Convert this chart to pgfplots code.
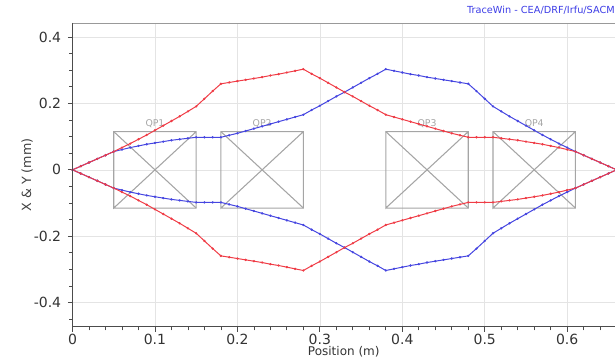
\documentclass[border=0pt]{standalone}
\usepackage{pgfplots}
\pgfplotsset{compat=1.18}
\usepackage{pgfplotstable}
\usepackage{fontspec}
\setmainfont{DejaVu Sans}
\definecolor{redl}{RGB}{240,60,70}
\definecolor{redm}{RGB}{120,20,20}
\definecolor{bluel}{RGB}{70,70,225}
\definecolor{bluem}{RGB}{20,20,100}
\definecolor{gridc}{RGB}{228,228,228}
\definecolor{boxc}{RGB}{165,165,165}
\definecolor{titc}{RGB}{60,60,230}

\pgfplotstableread{
x ru rl bu bl
0.00 0 0 0 0
0.01 0.011 -0.011 0.011 -0.011
0.02 0.022 -0.022 0.022 -0.022
0.03 0.033 -0.033 0.033 -0.033
0.04 0.044 -0.044 0.044 -0.044
0.05 0.055 -0.055 0.055 -0.055
0.06 0.067 -0.067 0.061 -0.061
0.07 0.079 -0.079 0.067 -0.067
0.08 0.092 -0.092 0.072 -0.072
0.09 0.105 -0.105 0.077 -0.077
0.10 0.119 -0.119 0.081 -0.081
0.11 0.133 -0.133 0.085 -0.085
0.12 0.147 -0.147 0.089 -0.089
0.13 0.161 -0.161 0.092 -0.092
0.14 0.176 -0.176 0.095 -0.095
0.15 0.191 -0.191 0.098 -0.098
0.16 0.214 -0.214 0.098 -0.098
0.17 0.237 -0.237 0.098 -0.098
0.18 0.259 -0.259 0.098 -0.098
0.19 0.263 -0.263 0.104 -0.104
0.20 0.267 -0.267 0.110 -0.110
0.21 0.271 -0.271 0.117 -0.117
0.22 0.275 -0.275 0.124 -0.124
0.23 0.279 -0.279 0.131 -0.131
0.24 0.284 -0.284 0.138 -0.138
0.25 0.288 -0.288 0.145 -0.145
0.26 0.293 -0.293 0.152 -0.152
0.27 0.298 -0.298 0.159 -0.159
0.28 0.303 -0.303 0.166 -0.166
0.29 0.289 -0.289 0.180 -0.180
0.30 0.276 -0.276 0.193 -0.193
0.31 0.262 -0.262 0.207 -0.207
0.32 0.248 -0.248 0.221 -0.221
0.33 0.234 -0.234 0.234 -0.234
0.34 0.221 -0.221 0.248 -0.248
0.35 0.207 -0.207 0.262 -0.262
0.36 0.193 -0.193 0.276 -0.276
0.37 0.180 -0.180 0.289 -0.289
0.38 0.166 -0.166 0.303 -0.303
0.39 0.159 -0.159 0.298 -0.298
0.40 0.152 -0.152 0.293 -0.293
0.41 0.145 -0.145 0.288 -0.288
0.42 0.138 -0.138 0.284 -0.284
0.43 0.131 -0.131 0.279 -0.279
0.44 0.124 -0.124 0.275 -0.275
0.45 0.117 -0.117 0.271 -0.271
0.46 0.110 -0.110 0.267 -0.267
0.47 0.104 -0.104 0.263 -0.263
0.48 0.098 -0.098 0.259 -0.259
0.49 0.098 -0.098 0.237 -0.237
0.50 0.098 -0.098 0.214 -0.214
0.51 0.098 -0.098 0.191 -0.191
0.52 0.095 -0.095 0.176 -0.176
0.53 0.092 -0.092 0.161 -0.161
0.54 0.089 -0.089 0.147 -0.147
0.55 0.085 -0.085 0.133 -0.133
0.56 0.081 -0.081 0.119 -0.119
0.57 0.077 -0.077 0.105 -0.105
0.58 0.072 -0.072 0.092 -0.092
0.59 0.067 -0.067 0.079 -0.079
0.60 0.061 -0.061 0.067 -0.067
0.61 0.055 -0.055 0.055 -0.055
0.62 0.044 -0.044 0.044 -0.044
0.63 0.033 -0.033 0.033 -0.033
0.64 0.022 -0.022 0.022 -0.022
0.65 0.011 -0.011 0.011 -0.011
0.66 0 0 0 0
}\env

\begin{document}
\begin{tikzpicture}
\begin{axis}[
  scale only axis,
  width=406.9pt, height=228pt,
  xmin=0, xmax=0.658, ymin=-0.473, ymax=0.442,
  xtick={0,0.1,0.2,0.3,0.4,0.5,0.6},
  ytick={-0.4,-0.2,0,0.2,0.4},
  minor xtick={0,0.02,...,0.66},
  minor ytick={-0.45,-0.4,...,0.45},
  tick pos=left,
  tick align=outside,
  major tick length=3.5pt,
  minor tick length=2.5pt,
  grid=major,
  major grid style={gridc, line width=0.5pt},
  axis line style={draw=none},
  tick style={black!70, line width=0.6pt},
  ticklabel style={font=\fontsize{10.5}{12}\selectfont, text=black!80},
  xticklabel style={yshift=1.5pt},
  yticklabel style={xshift=-1.5pt},
  /pgf/number format/assume math mode=true,
  xlabel={Position (m)},
  ylabel={X \& Y (mm)},
  xlabel style={at={(axis description cs:0.5,-0.082)}, anchor=center, font=\fontsize{9}{10}\selectfont, text=black!80},
  ylabel style={at={(axis description cs:-0.0836,0.5)}, anchor=center, font=\fontsize{9.5}{10}\selectfont, text=black!75},
]
% quadrupoles
\addplot[boxc, line width=0.8pt, no marks] coordinates {(0.05,-0.115) (0.15,-0.115) (0.15,0.115) (0.05,0.115) (0.05,-0.115) (0.15,0.115)};
\addplot[boxc, line width=0.8pt, no marks] coordinates {(0.05,0.115) (0.15,-0.115)};
\addplot[boxc, line width=0.8pt, no marks] coordinates {(0.18,-0.115) (0.28,-0.115) (0.28,0.115) (0.18,0.115) (0.18,-0.115) (0.28,0.115)};
\addplot[boxc, line width=0.8pt, no marks] coordinates {(0.18,0.115) (0.28,-0.115)};
\addplot[boxc, line width=0.8pt, no marks] coordinates {(0.38,-0.115) (0.48,-0.115) (0.48,0.115) (0.38,0.115) (0.38,-0.115) (0.48,0.115)};
\addplot[boxc, line width=0.8pt, no marks] coordinates {(0.38,0.115) (0.48,-0.115)};
\addplot[boxc, line width=0.8pt, no marks] coordinates {(0.51,-0.115) (0.61,-0.115) (0.61,0.115) (0.51,0.115) (0.51,-0.115) (0.61,0.115)};
\addplot[boxc, line width=0.8pt, no marks] coordinates {(0.51,0.115) (0.61,-0.115)};
\node[font=\fontsize{7}{8}\selectfont, text=boxc] at (axis cs:0.10,0.139) {QP1};
\node[font=\fontsize{7}{8}\selectfont, text=boxc] at (axis cs:0.23,0.139) {QP2};
\node[font=\fontsize{7}{8}\selectfont, text=boxc] at (axis cs:0.43,0.139) {QP3};
\node[font=\fontsize{7}{8}\selectfont, text=boxc] at (axis cs:0.56,0.139) {QP4};
% envelopes
\addplot[bluel, line width=0.75pt, mark=*, mark size=0.45pt, mark options={fill=bluem, draw=none}] table[x=x, y=bu] {\env};
\addplot[bluel, line width=0.75pt, mark=*, mark size=0.45pt, mark options={fill=bluem, draw=none}] table[x=x, y=bl] {\env};
\addplot[redl, line width=0.75pt, mark=*, mark size=0.45pt, mark options={fill=redm, draw=none}] table[x=x, y=ru] {\env};
\addplot[redl, line width=0.75pt, mark=*, mark size=0.45pt, mark options={fill=redm, draw=none}] table[x=x, y=rl] {\env};
\end{axis}
\draw[black!70, line width=0.7pt] (0,228pt) -- (0,0) -- (406.9pt,0);
\draw[black!40, line width=0.7pt] (0,228pt) -- (406.9pt,228pt);
\node[anchor=base east, font=\fontsize{7.3}{8}\selectfont, text=titc, inner sep=0pt] at (406.9pt,235pt) {TraceWin - CEA/DRF/Irfu/SACM};
\pgfresetboundingbox
\path[use as bounding box] (-54.4pt,-23.25pt) rectangle (406.9pt,245.25pt);
\end{tikzpicture}
\end{document}
